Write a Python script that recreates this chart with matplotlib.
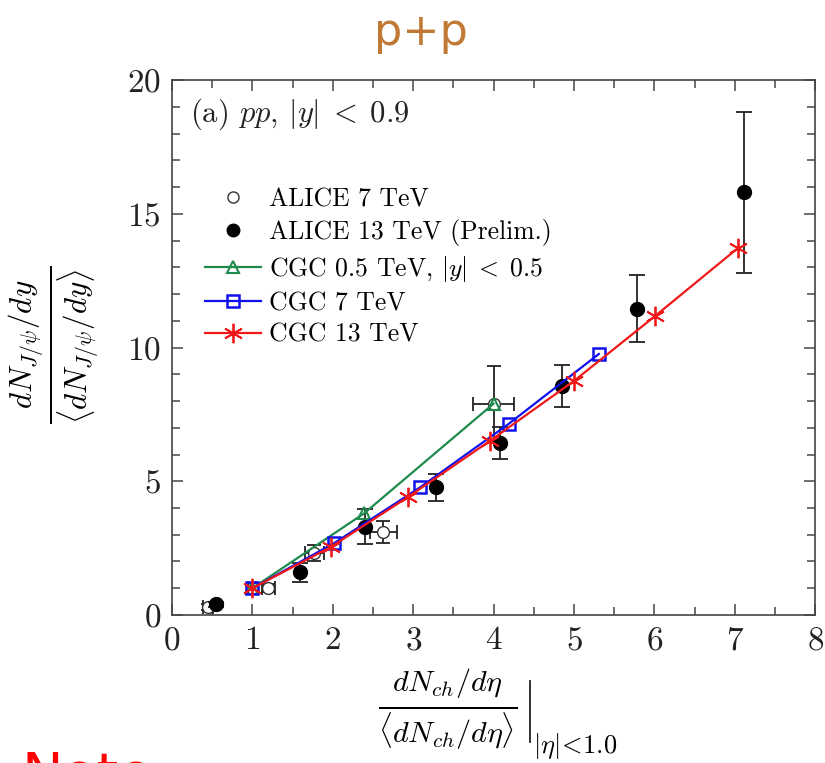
import numpy as np
import matplotlib.pyplot as plt
from matplotlib.ticker import MultipleLocator
from matplotlib.lines import Line2D

plt.rcParams['mathtext.fontset'] = 'cm'
plt.rcParams['font.family'] = 'serif'
plt.rcParams['font.serif'] = ['cmr10', 'DejaVu Serif']
plt.rcParams['axes.formatter.use_mathtext'] = True

# ALICE 7 TeV (open circles)
a7_x = [0.45, 1.0, 1.2, 1.77, 2.63, 4.0]
a7_y = [0.3, 1.0, 1.0, 2.3, 3.1, 7.9]
a7_xerr = [0.06, 0.05, 0.08, 0.12, 0.17, 0.25]
a7_yerr = [0.12, 0.1, 0.15, 0.3, 0.4, 1.4]

# ALICE 13 TeV prelim (filled circles)
a13_x = [0.55, 1.59, 2.4, 3.28, 4.08, 4.85, 5.78, 7.12]
a13_y = [0.4, 1.6, 3.3, 4.78, 6.43, 8.56, 11.45, 15.8]
a13_yerr = [0.1, 0.35, 0.65, 0.5, 0.6, 0.8, 1.25, 3.0]

# CGC curves
cgc05_x = [1.0, 2.39, 4.0]
cgc05_y = [1.0, 3.8, 7.9]
cgc7_x = [1.0, 2.02, 3.09, 4.19, 5.31]
cgc7_y = [1.0, 2.69, 4.78, 7.15, 9.76]
cgc13_x = [1.0, 1.98, 2.94, 3.95, 5.0, 6.01, 7.04]
cgc13_y = [1.0, 2.55, 4.42, 6.5, 8.75, 11.18, 13.72]

fig = plt.figure(figsize=(8.25, 7.63), dpi=100)
ax = fig.add_axes([0.2085, 0.194, 0.7795, 0.701])

ax.errorbar(a7_x, a7_y, xerr=a7_xerr, yerr=a7_yerr, fmt='o', mfc='white', mec='#333333',
            ms=8.5, ecolor='#222222', elinewidth=1.3, capsize=5, capthick=1.3, zorder=3)
ax.errorbar(a13_x, a13_y, yerr=a13_yerr, fmt='o', color='black', ms=10,
            ecolor='#222222', elinewidth=1.3, capsize=6, capthick=1.3, zorder=4)
ax.plot(cgc05_x, cgc05_y, '-^', color='#1e8a4c', mfc='none', ms=9, lw=1.6, mew=1.5, zorder=5)
ax.plot(cgc7_x, cgc7_y, '-s', color='#1010ee', mfc='none', ms=9, lw=1.6, mew=1.8, zorder=5)
ax.plot(cgc13_x, cgc13_y, '-', color='#f01818', lw=1.6, zorder=6,
        marker=(6, 2, 0), ms=14, mew=1.3)

ax.set_xlim(0, 8)
ax.set_ylim(0, 20)
ax.xaxis.set_major_locator(MultipleLocator(1))
ax.xaxis.set_minor_locator(MultipleLocator(0.5))
ax.yaxis.set_major_locator(MultipleLocator(5))
ax.yaxis.set_minor_locator(MultipleLocator(1))
ax.tick_params(which='both', direction='in', top=True, right=True, colors='#555555',
               labelcolor='#222222', labelsize=24, pad=8)
ax.tick_params(which='major', length=8, width=1.2)
ax.tick_params(which='minor', length=6, width=1.2)
for s in ax.spines.values():
    s.set_color('#444444')
    s.set_linewidth(1.2)

ax.text(0.028, 0.97, r'(a) $pp$, $|y|\;<\;$0.9', transform=ax.transAxes,
        fontsize=22, va='top', ha='left', color='#222222')

handles = [
    Line2D([], [], ls='none', marker='o', mfc='white', mec='#333333', ms=8),
    Line2D([], [], ls='none', marker='o', color='black', ms=9),
    Line2D([], [], color='#1e8a4c', marker='^', mfc='none', ms=9, lw=1.6, mew=1.5),
    Line2D([], [], color='#1010ee', marker='s', mfc='none', ms=9, lw=1.6, mew=1.8),
    Line2D([], [], color='#f01818', marker=(6, 2, 0), ms=14, lw=1.6, mew=1.3),
]
labels = ['ALICE 7 TeV', 'ALICE 13 TeV (Prelim.)', r'CGC 0.5 TeV, $|y|\;<\;$0.5',
          'CGC 7 TeV', 'CGC 13 TeV']
ax.legend(handles, labels, loc='upper left', bbox_to_anchor=(0.035, 0.818), frameon=False,
          fontsize=18.5, labelspacing=0.3, handlelength=2.2, handletextpad=0.3,
          borderaxespad=0)

fig.text(0.066, 0.548, r'$\frac{dN_{J/\psi}/dy}{\langle dN_{J/\psi}/dy\rangle}$', fontsize=32,
         rotation=90, ha='center', va='center')

fig.text(0.542, 0.07, r'$\frac{dN_{ch}/d\eta}{\langle dN_{ch}/d\eta\rangle}$', fontsize=31,
         ha='center', va='center')
fig.add_artist(Line2D([0.642, 0.642], [0.028, 0.107], color='#222222', lw=1.3,
                      transform=fig.transFigure))
fig.text(0.646, 0.013, r'$|\eta|\!<\!1.0$', fontsize=19, ha='left', va='baseline')

fig.text(0.51, 0.985, 'p+p', color='#c07a35', fontsize=32, family='DejaVu Sans',
         ha='center', va='top')
fig.text(0.026, 0.017, 'Note', color='red', fontsize=40, family='DejaVu Sans',
         ha='left', va='top')

fig.savefig('out.png', dpi=100)
